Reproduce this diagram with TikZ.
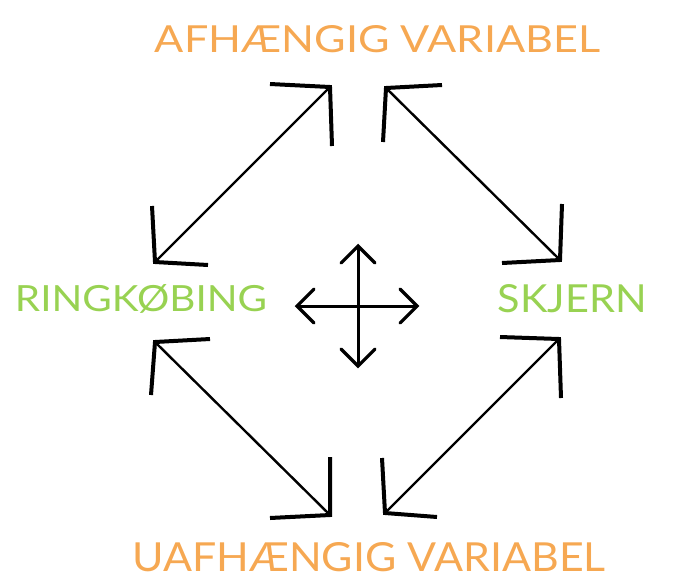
\documentclass[tikz,border=0pt]{standalone}
\usepackage{fontspec}
\setmainfont{Lato}
\usetikzlibrary{calc}
\definecolor{varorange}{RGB}{246,168,82}
\definecolor{citygreen}{RGB}{152,210,82}
\begin{document}
\begin{tikzpicture}[x=1pt,y=-1pt,
  shaft/.style={line width=2.4pt},
  barb/.style={line width=4pt,line join=miter,line cap=butt},
  crossline/.style={line width=3pt},
  crossbarb/.style={line width=3.2pt,line join=miter,line cap=round},
  lbl/.style={inner sep=0pt,anchor=center}]
\path[use as bounding box] (0,0) rectangle (692,584);
% labels
\node[lbl,text=varorange] (top) at (377.5,39.5) {\resizebox{445pt}{27pt}{AFHÆNGIG VARIABEL}};
\node[lbl,text=varorange] (bottom) at (369,557.5) {\resizebox{473pt}{29pt}{UAFHÆNGIG VARIABEL}};
\node[lbl,text=citygreen] (ring) at (141,298.5) {\resizebox{252pt}{27pt}{RINGKØBING}};
\node[lbl,text=citygreen] (skjern) at (572.5,299) {\resizebox{149pt}{28pt}{SKJERN}};
% arrow tips
\coordinate (p1) at (330,87);  \coordinate (q1) at (155,262);
\coordinate (p2) at (386,88);  \coordinate (q2) at (560,260);
\coordinate (p3) at (155,342); \coordinate (q3) at (330,515);
\coordinate (p4) at (559,339); \coordinate (q4) at (385,513);
% shafts
\draw[shaft] (p1) -- (q1);
\draw[shaft] (p2) -- (q2);
\draw[shaft] (p3) -- (q3);
\draw[shaft] (p4) -- (q4);
% heads
\draw[barb] (p1) ++(-60,-3) -- (p1) -- ++(2,59);
\draw[barb] (q1) ++(-3,-56) -- (q1) -- ++(53,3);
\draw[barb] (p2) ++(56,-3) -- (p2) -- ++(-3,54);
\draw[barb] (q2) ++(2,-56) -- (q2) -- ++(-58,3);
\draw[barb] (p3) ++(55,-3) -- (p3) -- ++(-4,53);
\draw[barb] (q3) ++(0,-58) -- (q3) -- ++(-60,3);
\draw[barb] (p4) ++(-59,-2) -- (p4) -- ++(2,59);
\draw[barb] (q4) ++(-3,-55) -- (q4) -- ++(52,4);
% centre cross
\coordinate (c) at (358,306);
\coordinate (cu) at (358,246); \coordinate (cd) at (358,366);
\coordinate (cl) at (297,306); \coordinate (cr) at (417,306);
\draw[crossline] (cu) -- (cd);
\draw[crossline] (cl) -- (cr);
\draw[crossbarb] (cu) ++(-17,17) -- (cu) -- ++(17,17);
\draw[crossbarb] (cd) ++(-17,-17) -- (cd) -- ++(17,-17);
\draw[crossbarb] (cl) ++(17,-17) -- (cl) -- ++(17,17);
\draw[crossbarb] (cr) ++(-17,-17) -- (cr) -- ++(-17,17);
\end{tikzpicture}
\end{document}
